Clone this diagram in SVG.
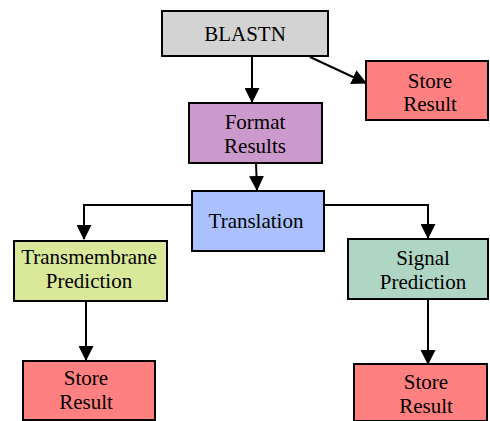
<svg xmlns="http://www.w3.org/2000/svg" width="490" height="421" viewBox="0 0 490 421">
<style>
.box{stroke:#000;stroke-width:2}
.t{font-family:'Liberation Serif',serif;font-size:21px;fill:#000;text-anchor:middle}
.c{fill:none;stroke:#000;stroke-width:2}
</style>
<defs>
<marker id="ah" markerUnits="userSpaceOnUse" markerWidth="15" markerHeight="15" refX="14" refY="7.5" orient="auto" viewBox="0 0 15 15">
<path d="M0,0 L15,7.5 L0,15 z" fill="#000"/>
</marker>
</defs>
<rect width="490" height="421" fill="#fff"/>
<g id="connectors">
<path class="c" d="M252,57 L252,102" marker-end="url(#ah)"/>
<path class="c" d="M310,57 L366,83" marker-end="url(#ah)"/>
<path class="c" d="M256,163 L257,190" marker-end="url(#ah)"/>
<path class="c" d="M192,205 L84,205 L84,239" marker-end="url(#ah)"/>
<path class="c" d="M324,205 L428,205 L428,238" marker-end="url(#ah)"/>
<path class="c" d="M86,301 L86,360" marker-end="url(#ah)"/>
<path class="c" d="M428,299 L428,364" marker-end="url(#ah)"/>
</g>
<g id="blastn">
<rect class="box" x="162" y="11" width="166" height="45" fill="#d3d3d3"/>
<text class="t" x="245" y="41">BLASTN</text>
</g>
<g id="store1">
<rect class="box" x="366" y="61" width="122" height="59" fill="#ff8080"/>
<text class="t" x="430" y="88">Store</text>
<text class="t" x="430" y="111">Result</text>
</g>
<g id="format">
<rect class="box" x="189" y="103" width="133" height="60" fill="#cc99cc"/>
<text class="t" x="255" y="129">Format</text>
<text class="t" x="255" y="153">Results</text>
</g>
<g id="translation">
<rect class="box" x="192" y="191" width="132" height="60" fill="#aac0ff"/>
<text class="t" x="256" y="228">Translation</text>
</g>
<g id="transmembrane">
<rect class="box" x="14" y="241" width="153" height="60" fill="#d9e899"/>
<text class="t" x="89" y="264">Transmembrane</text>
<text class="t" x="89" y="288">Prediction</text>
</g>
<g id="signal">
<rect class="box" x="348" y="239" width="140" height="60" fill="#afd6c4"/>
<text class="t" x="423" y="265">Signal</text>
<text class="t" x="423" y="289">Prediction</text>
</g>
<g id="store2">
<rect class="box" x="23" y="361" width="132" height="59" fill="#ff8080"/>
<text class="t" x="86" y="385">Store</text>
<text class="t" x="86" y="409">Result</text>
</g>
<g id="store3">
<rect class="box" x="354" y="364" width="133" height="57" fill="#ff8080"/>
<text class="t" x="426" y="389">Store</text>
<text class="t" x="426" y="413">Result</text>
</g>
</svg>
